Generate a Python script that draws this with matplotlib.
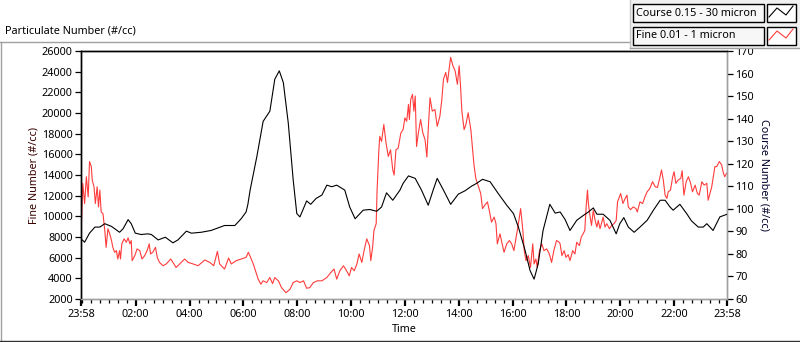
import matplotlib
matplotlib.use("Agg")
import matplotlib.pyplot as plt
import matplotlib.dates as mdates
from matplotlib.lines import Line2D
from matplotlib.patches import Rectangle
from datetime import datetime, timedelta

# ---------------- data ----------------
# minutes after 23:58 (start of the 24 h window)
course_t = [0, 8, 19, 31, 42, 53, 68, 86, 94, 105, 112, 121, 134, 149, 157, 172, 188, 205, 216,
            235, 246, 268, 290, 320, 343, 357, 368, 372, 377, 392, 406, 421, 432, 442, 451, 462,
            473, 481, 488, 503, 512, 524, 537, 548, 559, 570, 588, 599, 611, 629, 644, 659, 670,
            681, 695, 711, 718, 730, 745, 759, 774, 785, 794, 808, 824, 841, 856, 871, 882, 895,
            912, 930, 949, 964, 975, 990, 1001, 1010, 1019, 1030, 1045, 1057, 1068, 1079, 1090,
            1105, 1120, 1131, 1142, 1150, 1164, 1179, 1193, 1201, 1210, 1220, 1233, 1246, 1262,
            1276, 1291, 1302, 1313, 1320, 1335, 1350, 1361, 1376, 1387, 1395, 1409, 1424, 1440]
course_v = [86.7, 85.2, 89.2, 91.9, 91.9, 93.4, 92.2, 89.6, 91.2, 95.2, 93.4, 89.2, 88.6, 88.9,
            88.6, 86.2, 87.4, 84.9, 86.2, 90.1, 89.2, 89.6, 90.4, 92.6, 92.6, 95.6, 98.6, 102.0,
            108.3, 123.2, 138.8, 143.3, 157.5, 161.2, 156.0, 138.1, 112.8, 97.9, 96.4, 103.5,
            102.0, 104.6, 106.1, 110.5, 109.8, 110.5, 108.3, 100.8, 95.6, 99.4, 99.7, 98.9, 100.8,
            107.1, 103.8, 108.3, 111.3, 114.6, 113.5, 108.3, 101.6, 108.3, 113.5, 108.3, 102.0,
            106.5, 108.0, 110.1, 111.3, 113.1, 112.0, 106.8, 101.6, 97.9, 91.9, 81.5, 72.6, 68.8,
            75.5, 90.4, 102.0, 98.1, 98.6, 95.3, 90.4, 94.9, 97.1, 98.6, 100.4, 97.6, 97.6, 94.9,
            88.9, 93.4, 96.1, 91.9, 89.6, 91.9, 94.9, 99.4, 103.8, 103.8, 100.8, 99.4, 102.0,
            97.9, 94.6, 91.9, 91.9, 93.4, 90.4, 96.4, 97.6]

fine_t = [1, 4, 8, 12, 16, 19, 23, 25, 29, 32, 36, 39, 42, 45, 49, 53, 56, 60, 64, 68, 71, 75,
          79, 82, 86, 88, 91, 96, 101, 105, 109, 112, 114, 120, 125, 131, 136, 142, 148, 152,
          155, 160, 166, 170, 175, 183, 190, 200, 205, 212, 220, 231, 239, 250, 261, 276, 287,
          296, 304, 309, 320, 329, 335, 346, 357, 368, 373, 378, 384, 390, 395, 401, 406, 414,
          421, 427, 432, 440, 447, 457, 466, 473, 481, 488, 496, 503, 510, 518, 527, 537, 548,
          557, 564, 570, 577, 585, 592, 598, 603, 609, 615, 620, 626, 631, 637, 643, 646, 650,
          653, 658, 660, 664, 666, 670, 675, 680, 685, 690, 695, 698, 702, 707, 713, 718, 722,
          726, 730, 732, 735, 739, 742, 745, 748, 752, 757, 762, 767, 771, 774, 778, 783, 789,
          794, 800, 804, 808, 813, 817, 821, 824, 829, 834, 839, 843, 846, 849, 854, 858, 863,
          869, 873, 876, 880, 886, 891, 895, 900, 906, 910, 915, 921, 925, 928, 934, 938, 943,
          949, 955, 960, 965, 970, 975, 980, 985, 988, 992, 997, 1002, 1007, 1010, 1014, 1017,
          1022, 1027, 1032, 1038, 1044, 1049, 1054, 1060, 1066, 1068, 1072, 1077, 1081, 1086,
          1090, 1096, 1101, 1105, 1111, 1115, 1120, 1123, 1126, 1129, 1131, 1135, 1138, 1142,
          1146, 1150, 1153, 1157, 1161, 1164, 1168, 1172, 1178, 1183, 1188, 1193, 1196, 1200,
          1203, 1208, 1213, 1217, 1220, 1225, 1231, 1237, 1240, 1246, 1252, 1257, 1262, 1268,
          1274, 1280, 1285, 1289, 1294, 1298, 1302, 1306, 1309, 1314, 1319, 1322, 1326, 1331,
          1337, 1340, 1344, 1349, 1354, 1359, 1363, 1369, 1374, 1378, 1384, 1389, 1395, 1398,
          1402, 1406, 1409, 1413, 1417, 1423, 1428, 1432, 1435, 1439]
fine_v = [9290, 13190, 11240, 13830, 11880, 15300, 14810, 13510, 12860, 11240, 12860, 10910,
          12540, 10420, 10260, 8630, 7000, 8800, 8310, 7660, 7000, 6520, 6680, 5870, 6680, 5870,
          7340, 7820, 7490, 7920, 7340, 7660, 5710, 6200, 6850, 6680, 5870, 6200, 6750, 7340,
          6360, 6520, 7000, 6030, 5540, 5220, 5390, 5870, 5540, 5050, 5390, 5870, 5540, 5390,
          5220, 5780, 5540, 5220, 6610, 5390, 4900, 5970, 5390, 5710, 5870, 6030, 6520, 6030,
          5390, 4570, 3920, 3430, 3760, 3590, 4080, 3490, 4080, 3760, 3100, 2610, 2950, 3590,
          3760, 3590, 3760, 3040, 3100, 3590, 3760, 3760, 4080, 4570, 4900, 3920, 4730, 5220,
          4730, 4240, 5050, 4730, 5390, 6360, 5540, 6680, 7820, 7170, 5710, 7000, 8630, 9290,
          12540, 16440, 17740, 17250, 18880, 17090, 15790, 16440, 14490, 14000, 16440, 16600,
          18070, 18390, 19530, 19200, 20830, 19370, 21320, 21800, 20180, 21640, 16760, 18070,
          19370, 18070, 17410, 15730, 18390, 21480, 20180, 20340, 18710, 19690, 21150, 23270,
          23920, 22950, 24410, 25390, 24570, 24080, 22780, 24570, 22610, 20180, 18390, 18880,
          20020, 18390, 16440, 14980, 13680, 12860, 12210, 10750, 11070, 11400, 10590, 9440,
          9930, 9290, 7340, 8310, 7490, 6520, 7340, 7660, 7340, 6680, 7980, 9290, 10750, 8630,
          6680, 5710, 6200, 5050, 7340, 5390, 5870, 5050, 6680, 7340, 6680, 6850, 6360, 5540,
          6680, 7660, 7490, 7340, 6200, 6680, 6030, 6290, 5710, 6680, 6360, 7490, 7170, 7980,
          8370, 8630, 10910, 12540, 11240, 9930, 9120, 10590, 9610, 8960, 9610, 8800, 9440,
          9930, 8960, 9290, 8800, 9120, 9290, 9610, 11400, 11880, 12210, 11240, 11730, 12050,
          10910, 10650, 10910, 10750, 10420, 11400, 11240, 11880, 12370, 12700, 13350, 12860,
          12800, 13510, 14490, 13510, 12050, 11730, 12370, 12540, 13830, 14320, 13190, 13510,
          13680, 14420, 12050, 13350, 13830, 13190, 12370, 13020, 12210, 12050, 13350, 13020,
          13190, 11560, 12210, 12860, 13680, 14810, 14810, 15300, 14980, 14170, 13830, 14170]

series_names = ["Course 0.15 - 30 micron", "Fine 0.01 - 1 micron"]
fine_ticks = list(range(2000, 26001, 2000))
course_ticks = list(range(60, 171, 10))
start = datetime(2000, 1, 1, 23, 58)
end = start + timedelta(hours=24)

# ---------------- figure ----------------
W, H = 800, 342
plt.rcParams['font.family'] = ['Noto Sans', 'DejaVu Sans']
fig = plt.figure(figsize=(W / 100, H / 100), dpi=100)
fig.patch.set_facecolor('white')


def fx(x):
    return x / W


def fy(y):
    return 1 - y / H


ax = fig.add_axes([fx(81), fy(299), fx(727) - fx(81), fy(51) - fy(299)])
ax2 = ax.twinx()

ft = [start + timedelta(minutes=m) for m in fine_t]
ct = [start + timedelta(minutes=m) for m in course_t]
ax.plot(ft, fine_v, color='#ff3c3c', lw=0.8, zorder=2)
ax2.plot(ct, course_v, color='black', lw=0.8, zorder=3)

ax.set_xlim(start, end)
ax.set_ylim(2000, 26000)
ax2.set_ylim(60, 170)
ax.set_yticks(fine_ticks)
ax2.set_yticks(course_ticks)

major = [start] + [datetime(2000, 1, 2, h) for h in range(2, 23, 2)] + [end]
ax.set_xticks(major)
ax.xaxis.set_major_formatter(mdates.DateFormatter('%H:%M'))
ax.xaxis.set_minor_locator(mdates.MinuteLocator(byminute=[0, 20, 40]))

fs = 7.8
for a in (ax, ax2):
    a.tick_params(axis='both', which='major', labelsize=fs, color='black', pad=2)
    for s in a.spines.values():
        s.set_linewidth(1.0)
    a.spines['top'].set_color('black')
    a.spines['left'].set_color('black')
    a.spines['bottom'].set_color('#a0a0a0')
    a.spines['right'].set_color('#a0a0a0')
ax.tick_params(axis='x', which='major', length=5, width=1.6)
ax.tick_params(axis='x', which='minor', length=3, width=0.9)
ax.tick_params(axis='y', which='major', length=4, width=0.9)
ax2.tick_params(axis='y', which='major', length=4, width=0.9)

ax.set_ylabel('Fine Number (#/cc)', fontsize=fs, color='#3a0000', labelpad=2)
ax2.set_ylabel('Course Number (#/cc)', fontsize=fs, color='#00002a', rotation=270, labelpad=11)
ax.set_xlabel('Time', fontsize=fs, labelpad=3)

# outer panel frame
fig.add_artist(Line2D([fx(0), fx(630)], [fy(42), fy(42)], color='#a0a0a0', lw=1))
fig.add_artist(Line2D([fx(1), fx(1)], [fy(42), fy(340)], color='#a0a0a0', lw=1))
fig.add_artist(Line2D([fx(0), fx(800)], [fy(340.5), fy(340.5)], color='#303030', lw=1))
fig.text(fx(5), fy(31), 'Particulate Number (#/cc)', fontsize=fs, ha='left', va='center')

# legend panel
fig.add_artist(Rectangle((fx(630), fy(48)), fx(170), fy(0) - fy(48), facecolor='#f0f0f0',
                         edgecolor='none'))
fig.add_artist(Line2D([fx(630), fx(630)], [fy(0), fy(48)], color='#c8c8c8', lw=1))
fig.add_artist(Line2D([fx(630), fx(800)], [fy(48), fy(48)], color='#a0a0a0', lw=1))
rows = [(4, 22, 'black'), (27, 45, '#ff3c3c')]
for (y0, y1, col), name in zip(rows, series_names):
    fig.add_artist(Rectangle((fx(633), fy(y1)), fx(764) - fx(633), fy(y0) - fy(y1),
                             facecolor='#f7f7f7', edgecolor='black', lw=1))
    fig.text(fx(636), fy((y0 + y1) / 2), name, fontsize=fs, ha='left', va='center')
    fig.add_artist(Rectangle((fx(767), fy(y1)), fx(796) - fx(767), fy(y0) - fy(y1),
                             facecolor='white', edgecolor='black', lw=1))
    zx = [769, 777, 786, 793]
    zy = [y0 + 13, y0 + 4, y0 + 11, y0 + 2]
    fig.add_artist(Line2D([fx(v) for v in zx], [fy(v) for v in zy], color=col, lw=0.8))

fig.savefig('out.png', dpi=100)
